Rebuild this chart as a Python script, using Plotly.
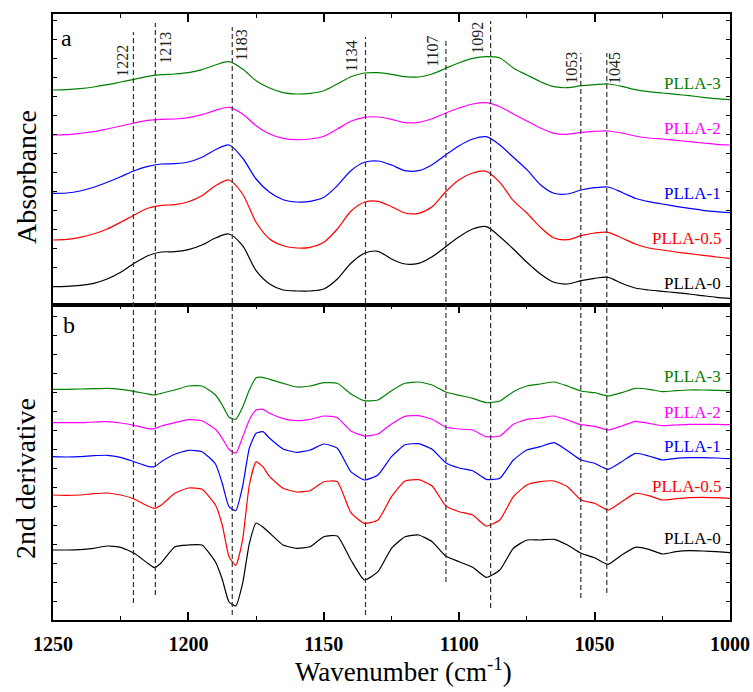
import plotly.graph_objects as go

# ---------------- data ----------------
wn_a = [1250, 1245, 1240, 1235, 1230, 1225, 1220, 1215, 1210, 1205, 1200, 1195, 1190, 1185, 1180,
        1175, 1170, 1165, 1160, 1155, 1150, 1145, 1140, 1135, 1130, 1125, 1120, 1115, 1110, 1105,
        1100, 1095, 1090, 1085, 1080, 1075, 1070, 1065, 1060, 1055, 1050, 1045, 1040, 1035, 1030,
        1025, 1020, 1015, 1010, 1005, 1000]

abs_plla0 = [18.3, 18.7, 19.7, 21.7, 26, 32.7, 41.7, 49.3, 53, 53.3, 55.3, 60, 67, 71, 59.3,
             34.3, 21, 15, 14, 14, 16, 26, 41.7, 51.7, 53.7, 46, 41, 41.7, 48.3, 58.3,
             68.3, 76, 78.3, 68.3, 56, 42.7, 31, 22.7, 21, 24.3, 26.7, 27.7, 21.7, 17, 15,
             13.7, 12.3, 11, 9.3, 7.7, 6.7]
abs_plla05 = [65, 65.7, 67.7, 71, 76, 82.7, 90, 96.7, 99.7, 100.3, 103.3, 109.3, 119.3, 125, 111,
              82.7, 66, 59.3, 57, 57.7, 62.7, 76, 93.7, 102.7, 103.7, 98.3, 92, 91.7, 98.3, 113.3,
              125.3, 132, 133.7, 122.7, 104.3, 92, 77.7, 67, 65.3, 69.3, 72, 72.7, 67, 61, 57,
              55, 53, 51.3, 49.7, 48, 46.7]
abs_plla1 = [111.7, 112, 114, 117.7, 122.7, 128.3, 134.3, 138.7, 141, 141.3, 143, 147.7, 155.3, 160, 147,
             126, 112.7, 105.3, 103, 103.7, 107.7, 119.3, 134.3, 142.7, 144, 140, 134.3, 134.3, 140.3, 150,
             159.3, 166, 168.3, 160, 147.7, 135.3, 120.3, 111.7, 111, 115, 117.3, 118, 112.7, 106.7, 103.3,
             101, 98.7, 96.7, 94.7, 93.3, 92.3]
abs_plla2 = [170, 170.3, 171.7, 173.3, 176, 179, 182, 184.7, 185.7, 186, 187.3, 190.3, 194.7, 197.7, 191,
             179.3, 171, 166.7, 165.3, 166, 168.7, 176, 183.7, 187.7, 188, 185.7, 182.3, 182.7, 186.3, 192,
             197, 201, 202.3, 198.3, 191, 184, 177, 171.7, 170.7, 172.7, 173.7, 174, 172, 169, 167,
             166, 164.7, 163.3, 162, 160.7, 160]
abs_plla3 = [215, 215.3, 216.3, 218, 220.3, 223, 225.7, 228.7, 230.3, 231, 232.3, 235.3, 240, 243.3, 236,
             224.3, 217, 212.3, 211, 211.7, 214.3, 221, 228.3, 232, 232.3, 230.7, 228.3, 228, 231, 236.7,
             242.3, 246.7, 248.3, 247, 237, 230, 223.3, 218.3, 217.3, 219.3, 220.3, 221, 218.7, 215.3, 213.3,
             212, 210.7, 209.3, 207.7, 206.3, 205.3]

wn_b = [1250, 1245, 1240, 1235, 1230, 1225, 1220, 1215, 1212.5, 1210, 1205, 1200, 1195, 1190, 1187.5,
        1185, 1182.5, 1180, 1177.5, 1175, 1172.5, 1170, 1165, 1160, 1155, 1150, 1145, 1140, 1135, 1130,
        1125, 1120, 1115, 1110, 1105, 1100, 1095, 1090, 1085, 1080, 1075, 1070, 1065, 1060, 1055,
        1050, 1045, 1040, 1035, 1030, 1025, 1020, 1015, 1010, 1005, 1000]

d2_plla0 = [70, 70, 70.3, 71.7, 74, 72.7, 66.7, 56.7, 52.3, 57.3, 73.3, 75, 75, 58, 40.7,
            18, 14, 36.3, 76.3, 97, 93, 87, 75, 71.7, 73.3, 83.3, 84, 60, 40, 48.3,
            71.7, 83.3, 85, 78.3, 64, 58.3, 52.7, 42.7, 50, 71.7, 80, 80, 80.7, 75, 66.7,
            62.3, 55.7, 65, 72.7, 70.7, 66, 68.3, 69.3, 69, 68.3, 67.3]
d2_plla05 = [125, 124.7, 125, 126.3, 127, 125, 121, 114, 111.7, 115, 126.7, 132, 130.7, 115, 95,
             63.3, 54.7, 80, 135, 158.3, 153.3, 143.3, 131.7, 128, 129.3, 138.3, 138.3, 107.3, 96.7, 100,
             123.3, 139, 140.3, 134, 114.3, 108.3, 105, 94, 100, 123.3, 135, 138.3, 139, 133.3, 120,
             116.7, 110, 118.3, 126.7, 124.3, 120, 121.3, 122.3, 122.7, 122.3, 121.7]
d2_plla1 = [163.3, 163, 163.3, 164.3, 164.7, 162.7, 158.3, 153.7, 153.3, 158.3, 165.7, 169.7, 168.3, 156, 136.7,
            113.3, 109.3, 133.3, 171.7, 186.7, 188.3, 181.7, 171, 167.7, 170, 176, 171.7, 148.3, 140, 145,
            163.3, 175.3, 176.3, 170.7, 157.3, 152, 149.3, 140.7, 141.7, 160, 170, 173.3, 177.3, 169.3, 160,
            156.7, 150.7, 158.3, 166.7, 164, 160, 161.7, 162.3, 162.3, 162, 161.3]
d2_plla2 = [197.3, 197.3, 197.3, 198, 198.3, 197, 194.7, 191.3, 191.3, 194, 197.3, 200.3, 199.3, 190.7, 181.7,
            170.7, 166.7, 182.7, 200, 210, 210.7, 206.7, 201.3, 199.3, 200.7, 204, 202.3, 189, 184, 186,
            196, 203.7, 204.3, 200.7, 193, 191, 190, 183.3, 184, 195.7, 200.7, 202, 204, 200, 195.3,
            193.7, 190, 194, 198.7, 196.7, 194.3, 195, 195.7, 195.7, 195.7, 195.3]
d2_plla3 = [230.7, 230.7, 231, 231.3, 231.7, 230.7, 228.7, 226, 225, 226.7, 230, 234, 234, 225, 215,
            202.7, 200.7, 212.7, 230, 242.3, 242.7, 240.7, 236.7, 233, 234, 237.3, 236.7, 226, 219.3, 220,
            229.3, 236.7, 238, 235, 228, 224.7, 221.7, 217.3, 219, 228.3, 234, 236, 238, 234, 229,
            227.3, 224, 227.3, 231.7, 230.7, 228.3, 229.3, 230, 230, 229.7, 229.3]

series_names = ["PLLA-0", "PLLA-0.5", "PLLA-1", "PLLA-2", "PLLA-3"]
series_colors = ["#000000", "#ff0000", "#0000ff", "#ff00ff", "#008000"]
abs_series = [abs_plla0, abs_plla05, abs_plla1, abs_plla2, abs_plla3]
d2_series = [d2_plla0, d2_plla05, d2_plla1, d2_plla2, d2_plla3]

# marker band positions (line position, label text)
band_pos = [1220.3, 1212.2, 1183.8, 1134.6, 1104.9, 1088.4, 1055.1, 1045.5]
band_labels = ["1222", "1213", "1183", "1134", "1107", "1092", "1053", "1045"]

x_ticks = [1250, 1200, 1150, 1100, 1050, 1000]

# ---------------- layout helpers ----------------
H_TOP, H_BOT = 14, 620          # plot area top/bottom pixel rows
def pyp(py):                    # pixel row -> paper y
    return (H_BOT - py) / (H_BOT - H_TOP)

split = pyp(305)
band_top_px = [32, 23, 27, 37, 40, 21, 53, 53]
band_bot_px = [603, 595, 615, 615, 582, 608, 598, 593]
label_x = [1224.6, 1208.7, 1180.7, 1139.7, 1110.1, 1093.5, 1058.4, 1042.5]
label_y_px = [61, 48, 45, 56, 51, 38, 68, 68]
lab_a_y = [22, 67, 112, 177, 222]
lab_b_y = [82, 134, 174, 208, 244]

SERIF = "Liberation Serif"

fig = go.Figure()
for name, col, ya, yb in zip(series_names, series_colors, abs_series, d2_series):
    fig.add_trace(go.Scatter(x=wn_a, y=ya, mode="lines", name=name,
                             line=dict(color=col, width=1.2, shape="spline", smoothing=0.8),
                             xaxis="x", yaxis="y", showlegend=False))
    fig.add_trace(go.Scatter(x=wn_b, y=yb, mode="lines", name=name,
                             line=dict(color=col, width=1.2, shape="spline", smoothing=0.5),
                             xaxis="x2", yaxis="y2", showlegend=False))

shapes = []
for xp, t, b in zip(band_pos, band_top_px, band_bot_px):
    shapes.append(dict(type="line", xref="x", yref="paper", x0=xp, x1=xp,
                       y0=pyp(b), y1=pyp(t),
                       line=dict(color="#333333", width=1.2, dash="5px,3px")))

ann = []
for lx, ly, txt in zip(label_x, label_y_px, band_labels):
    ann.append(dict(x=lx, y=pyp(ly), xref="x", yref="paper", text=txt, textangle=-90,
                    showarrow=False, font=dict(family=SERIF, size=16, color="#222222"),
                    xanchor="center", yanchor="middle"))
for name, col, ya_, yb_ in zip(series_names, series_colors, lab_a_y, lab_b_y):
    ann.append(dict(x=1002.5, y=ya_, xref="x", yref="y", text=name, showarrow=False,
                    font=dict(family=SERIF, size=17, color=col), xanchor="right", yanchor="middle"))
    ann.append(dict(x=1002.5, y=yb_, xref="x2", yref="y2", text=name, showarrow=False,
                    font=dict(family=SERIF, size=17, color=col), xanchor="right", yanchor="middle"))

ann += [
    dict(x=0.02, y=pyp(38), xref="paper", yref="paper", text="a", showarrow=False,
         font=dict(family=SERIF, size=24, color="black"), xanchor="center", yanchor="middle"),
    dict(x=0.023, y=pyp(325), xref="paper", yref="paper", text="b", showarrow=False,
         font=dict(family=SERIF, size=24, color="black"), xanchor="center", yanchor="middle"),
    dict(x=-0.04, y=pyp(177), xref="paper", yref="paper", text="Absorbance", textangle=-90,
         showarrow=False, font=dict(family=SERIF, size=28, color="black"),
         xanchor="center", yanchor="middle"),
    dict(x=-0.04, y=pyp(478), xref="paper", yref="paper", text="2nd derivative", textangle=-90,
         showarrow=False, font=dict(family=SERIF, size=28, color="black"),
         xanchor="center", yanchor="middle"),
    dict(x=0.517, y=pyp(670), xref="paper", yref="paper", text="Wavenumber (cm<sup>-1</sup>)",
         showarrow=False, font=dict(family=SERIF, size=27, color="black"),
         xanchor="center", yanchor="middle"),
]

xcommon = dict(range=[1250, 1000], showline=True, linecolor="black", linewidth=2,
               ticks="inside", ticklen=8, tickwidth=1.5, tickcolor="black",
               tickvals=x_ticks, showgrid=False, zeroline=False, automargin=False,
               minor=dict(ticks="inside", ticklen=4, tickwidth=1.2, tickcolor="black", dtick=25))
ycommon = dict(showline=True, linecolor="black", linewidth=2, mirror="ticks",
               ticks="inside", ticklen=4, tickwidth=1, tickcolor="black", automargin=False,
               showticklabels=False, showgrid=False, zeroline=False, dtick=19, tick0=0)

fig.update_layout(
    width=753, height=692, autosize=False,
    margin=dict(l=53, r=23, t=14, b=72, pad=0),
    plot_bgcolor="white", paper_bgcolor="white",
    xaxis=dict(**xcommon, anchor="y", domain=[0, 1], side="top", mirror=True,
               showticklabels=False),
    yaxis=dict(**ycommon, anchor="x", domain=[split, 1], range=[0, 291]),
    xaxis2=dict(**xcommon, anchor="y2", domain=[0, 1], mirror="ticks", matches="x",
                showticklabels=True, ticklabelstandoff=5,
                tickfont=dict(family=SERIF, size=20, color="black", weight="bold")),
    yaxis2=dict(**ycommon, anchor="x2", domain=[0, split], range=[0, 315]),
    shapes=shapes, annotations=ann,
)

fig.write_html("out.html", config={"responsive": False},
               post_script="document.body.style.margin='0';document.body.style.overflow='hidden';")
